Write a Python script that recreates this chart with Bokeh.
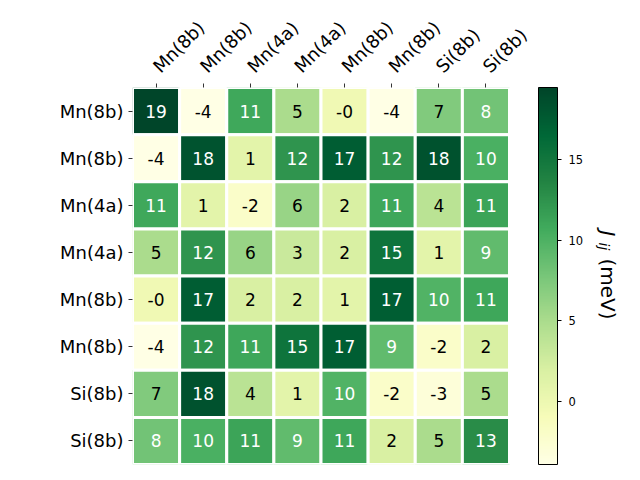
import math
import numpy as np
from bokeh.plotting import figure
from bokeh.models import (Range1d, FixedTicker, LinearColorMapper, ColorBar,
                          ColumnDataSource, Label)
from bokeh.core.properties import value
from bokeh.embed import file_html
from bokeh.resources import INLINE

# ---------------- data ----------------
row_labels = ["Mn(8b)", "Mn(8b)", "Mn(4a)", "Mn(4a)", "Mn(8b)", "Mn(8b)", "Si(8b)", "Si(8b)"]
col_labels = ["Mn(8b)", "Mn(8b)", "Mn(4a)", "Mn(4a)", "Mn(8b)", "Mn(8b)", "Si(8b)", "Si(8b)"]
J = [
    [19.44, -3.89, 10.9, 5.0, -0.3, -3.8, 7.3, 8.1],
    [-3.89, 18.2, 1.0, 12.4, 17.4, 12.4, 18.3, 10.2],
    [10.9, 1.0, -2.0, 6.0, 2.0, 11.0, 4.0, 11.2],
    [5.0, 12.4, 6.0, 3.0, 2.0, 15.3, 1.0, 9.0],
    [-0.3, 17.4, 2.0, 2.0, 1.0, 17.3, 9.8, 11.0],
    [-3.8, 12.4, 11.0, 15.3, 17.3, 9.0, -2.0, 2.0],
    [7.3, 18.3, 4.0, 1.0, 9.8, -2.0, -3.0, 5.0],
    [8.1, 10.2, 11.2, 9.0, 11.0, 2.0, 5.0, 13.0],
]
cbar_ticks = [0, 5, 10, 15]
cbar_label_main = "J"
cbar_label_sub = "ij"
cbar_label_unit = "(meV)"

# YlGn colormap stops (light -> dark)
ylgn_stops = ["#ffffe5", "#f7fcb9", "#d9f0a3", "#addd8e", "#78c679",
              "#41ab5d", "#238443", "#006837", "#004529"]


def build_palette(stops, n=256):
    rgb = np.array([[int(s[i:i + 2], 16) for i in (1, 3, 5)] for s in stops], float)
    pos = np.linspace(0, 1, len(stops))
    t = np.linspace(0, 1, n)
    out = []
    for k in t:
        r = np.interp(k, pos, rgb[:, 0]); g = np.interp(k, pos, rgb[:, 1]); b = np.interp(k, pos, rgb[:, 2])
        out.append("#%02x%02x%02x" % (int(round(r)), int(round(g)), int(round(b))))
    return out


palette = build_palette(ylgn_stops)
data = np.array(J)
vmin, vmax = data.min(), data.max()
n_rows, n_cols = data.shape

xs, ys, vals, txt, tcol = [], [], [], [], []
for i in range(n_rows):
    for j in range(n_cols):
        v = data[i, j]
        xs.append(j + 0.5)
        ys.append(i + 0.5)
        vals.append(v)
        txt.append("{:.0f}".format(v))
        tcol.append("white" if (v - vmin) / (vmax - vmin) > 0.5 else "black")
src = ColumnDataSource(dict(x=xs, y=ys, v=vals, t=txt, c=tcol))

mapper = LinearColorMapper(palette=palette, low=vmin, high=vmax)

# ---------------- layout ----------------
W, H = 632, 472
FL, FT, FH = 132, 87, 377          # heatmap occupies FL..FL+377 horizontally
scale = FH / n_rows                # px per cell
FWfull = W - FL                    # frame extends to right edge (room for colorbar)

p = figure(width=W, height=H, x_range=Range1d(0, FWfull / scale), y_range=Range1d(n_rows, 0),
           x_axis_location="above", output_backend="svg", toolbar_location=None,
           min_border_left=FL, min_border_top=FT, min_border_right=0,
           min_border_bottom=H - FT - FH)
p.outline_line_color = None
p.grid.visible = False
p.background_fill_color = "white"

p.rect(x="x", y="y", width=1, height=1, source=src,
       fill_color={"field": "v", "transform": mapper},
       line_color="white", line_width=3)
p.text(x="x", y="y", text="t", source=src, text_color="c",
       text_align="center", text_baseline="middle",
       text_font=value("DejaVu Sans"), text_font_size="17px")

for ax, labels in ((p.xaxis, col_labels), (p.yaxis, row_labels)):
    ax.ticker = FixedTicker(ticks=[k + 0.5 for k in range(len(labels))])
    ax.major_label_overrides = {k + 0.5: lab for k, lab in enumerate(labels)}
    ax.axis_line_color = None
    ax.major_tick_in = 0
    ax.major_tick_out = 4
    ax.minor_tick_line_color = None
    ax.major_tick_line_color = "black"
    ax.major_tick_line_width = 0.8
    ax.major_label_text_font = "DejaVu Sans"
    ax.major_label_text_font_size = "18px"
    ax.major_label_text_color = "black"
    ax.major_label_standoff = 5
p.xaxis.major_label_orientation = math.pi / 4
p.xaxis.major_label_standoff = 14

cb = ColorBar(color_mapper=mapper, width=19, height=FH, padding=0, margin=0,
              location=(406, 0),
              ticker=FixedTicker(ticks=cbar_ticks),
              major_label_text_font="DejaVu Sans", major_label_text_font_size="11.5px",
              major_label_text_color="black",
              major_tick_in=0, major_tick_out=4, major_tick_line_color="black",
              minor_tick_line_color=None, label_standoff=7,
              bar_line_color="black", bar_line_width=1,
              border_line_color=None, background_fill_alpha=0)
p.add_layout(cb, "center")


def px_to_data(sx, sy):
    return (sx - FL) / scale, (sy - FT) / scale


# colorbar label (rotated, reading top to bottom)
lx, ly = px_to_data(607, 230)
p.add_layout(Label(x=lx, y=ly, text=cbar_label_main, angle=-math.pi / 2,
                   text_font="DejaVu Sans", text_font_style="italic", text_color="black",
                   text_font_size="20px", text_align="left", text_baseline="middle"))
lx, ly = px_to_data(603, 242)
p.add_layout(Label(x=lx, y=ly, text=cbar_label_sub, angle=-math.pi / 2,
                   text_font="DejaVu Sans", text_font_style="italic", text_color="black",
                   text_font_size="14px", text_align="left", text_baseline="middle"))
lx, ly = px_to_data(607, 258)
p.add_layout(Label(x=lx, y=ly, text=cbar_label_unit, angle=-math.pi / 2,
                   text_font="DejaVu Sans", text_font_size="20px", text_color="black",
                   text_align="left", text_baseline="middle"))

open("out.html", "w").write(file_html(p, INLINE))
